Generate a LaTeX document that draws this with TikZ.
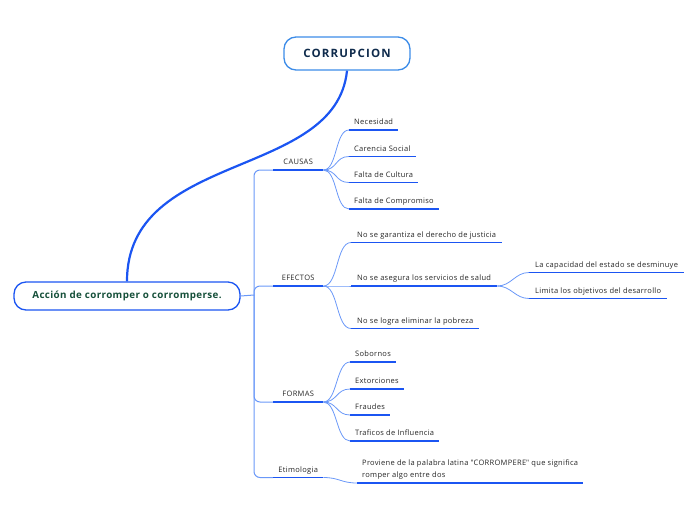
\documentclass[tikz,border=0pt]{standalone}
\usepackage{fontspec}
\setmainfont[LetterSpace=4]{Open Sans}
\newfontfamily\widefont[LetterSpace=10]{Open Sans}
\usetikzlibrary{positioning}
\definecolor{Navy}{HTML}{0F2B4C}
\definecolor{Pine}{HTML}{16503A}
\definecolor{Frame}{HTML}{3C8CE8}
\definecolor{Line}{HTML}{1B55F2}
\definecolor{Twig}{HTML}{6A98F8}
\definecolor{Ink}{HTML}{262626}
\newcommand\straightdq{\XeTeXglyph\XeTeXcharglyph"22\relax}

\tikzset{
  central/.style={draw=Frame,line width=1.3pt,rounded corners=12pt,fill=white,
    minimum width=126pt,minimum height=33pt,inner sep=0pt,
    font=\widefont\fontsize{11.5}{13}\selectfont\bfseries,text=Navy},
  mainbox/.style={draw=Line,line width=1.3pt,rounded corners=12pt,fill=white,
    minimum width=226pt,minimum height=28pt,inner sep=0pt,
    font=\fontsize{9.8}{11}\selectfont\bfseries,text=Pine},
  topic/.style={anchor=south west,inner xsep=5pt,inner ysep=3.5pt,
    text height=5.8pt,text depth=1.6pt,
    font=\fontsize{7.5}{12.5}\selectfont,text=Ink},
  branch/.style={topic,minimum width=50pt,inner xsep=0pt},
  uline/.style={Line,line width=1.6pt},
  twig/.style={Twig,line width=0.8pt},
  stem/.style={Twig,line width=1pt},
  bigline/.style={Line,line width=2.2pt}
}

\begin{document}
\begin{tikzpicture}[x=1pt,y=-1pt]
\useasboundingbox (0,0) rectangle (696,520);

% central topic and its subtitle
\node[central] (corr) at (347,53.5) {CORRUPCION};
\node[mainbox] (accion) at (127,296) {Acción de corromper o corromperse.};
\draw[bigline] (corr.south) .. controls (336,180) and (127,150) .. (accion.north);

% trunk
\coordinate (hub) at (254,295);
\draw[stem] (accion.east) -- (hub);

\node[branch] (causas) at (273,170) {CAUSAS};
\node[branch] (efectos) at (273,286) {EFECTOS};
\node[branch] (formas) at (273,402) {FORMAS};
\node[branch] (etimo) at (273,477.5) {Etimologia};
\foreach \b in {causas,efectos,formas,etimo} {
  \draw[stem,rounded corners=6pt] (hub) |- (\b.south west);
  \draw[uline] (\b.south west) -- (\b.south east);
}

% causas
\foreach \n/\y/\t in {nec/130/Necesidad,car/156.5/Carencia Social,
    cul/182.5/Falta de Cultura,com/209/Falta de Compromiso} {
  \node[topic] (\n) at (349,\y) {\t};
  \draw[uline] (\n.south west) -- (\n.south east);
  \draw[twig] (causas.south east) .. controls +(14,0) and +(-14,0) .. (\n.south west);
}

% efectos
\foreach \n/\y/\t in {just/242.5/No se garantiza el derecho de justicia,
    salud/286/No se asegura los servicios de salud,
    pobre/328.5/No se logra eliminar la pobreza} {
  \node[topic,inner xsep=6pt] (\n) at (351,\y) {\t};
  \draw[uline] (\n.south west) -- (\n.south east);
  \draw[twig] (efectos.south east) .. controls +(15,0) and +(-15,0) .. (\n.south west);
}
\foreach \n/\y/\t in {capac/272.5/La capacidad del estado se desminuye,
    limita/298.5/Limita los objetivos del desarrollo} {
  \node[topic,inner xsep=6pt] (\n) at (529,\y) {\t};
  \draw[uline] (\n.south west) -- (\n.south east);
  \draw[twig] (salud.south east) .. controls +(14,0) and +(-14,0) .. (\n.south west);
}

% formas
\foreach \n/\y/\t in {sob/362/Sobornos,ext/389/Extorciones,
    fra/415/Fraudes,tra/441/Traficos de Influencia} {
  \node[topic] (\n) at (350,\y) {\t};
  \draw[uline] (\n.south west) -- (\n.south east);
  \draw[twig] (formas.south east) .. controls +(14,0) and +(-14,0) .. (\n.south west);
}

% etimologia
\node[topic,align=left] (prov) at (357,483)
  {Proviene de la palabra latina \straightdq CORROMPERE\straightdq{} que significa\\romper algo entre dos};
\draw[uline] (prov.south west) -- (prov.south east);
\draw[twig] (etimo.south east) .. controls +(16,0) and +(-16,0) .. (prov.south west);
\end{tikzpicture}
\end{document}
